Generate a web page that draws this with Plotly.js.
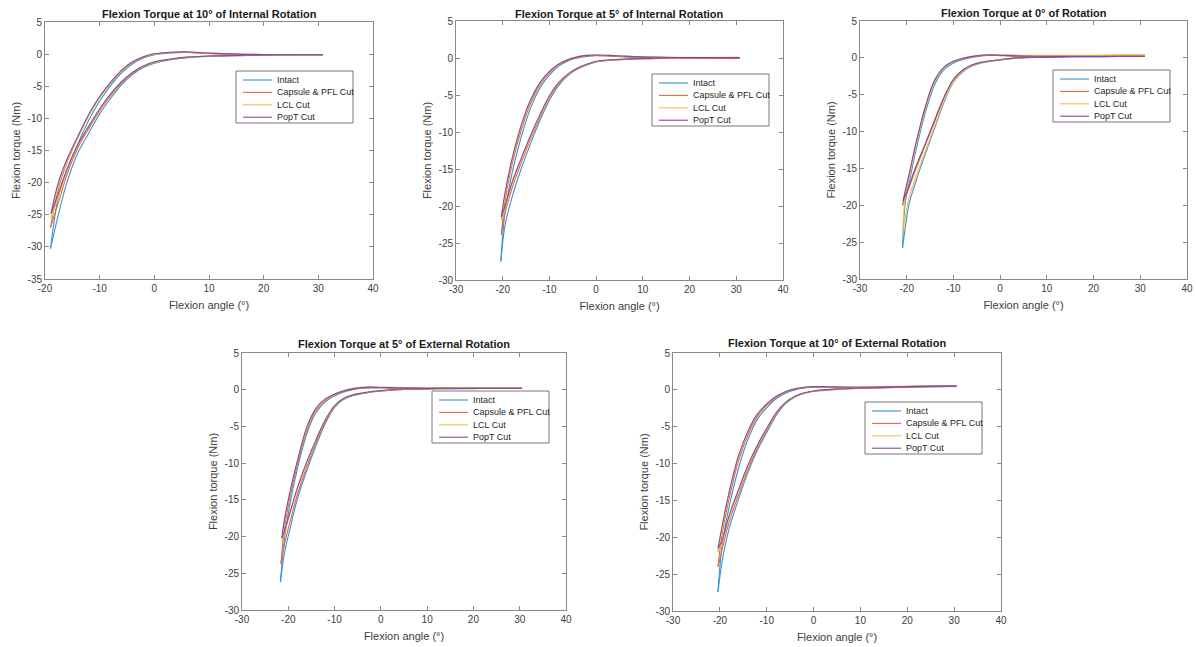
<!DOCTYPE html>
<html>
<head>
<meta charset="utf-8">
<script src="https://cdn.plot.ly/plotly-3.0.1.min.js"></script>
<style>html,body{margin:0;padding:0;background:#fff;}#chart{width:1196px;height:647px;}</style>
</head>
<body>
<div id="chart"></div>
<script>
// ---------------- DATA ----------------
const seriesNames = ['Intact', 'Capsule & PFL Cut', 'LCL Cut', 'PopT Cut'];
const panelTitles = [
  'Flexion Torque at 10° of Internal Rotation',
  'Flexion Torque at 5° of Internal Rotation',
  'Flexion Torque at 0° of Rotation',
  'Flexion Torque at 5° of External Rotation',
  'Flexion Torque at 10° of External Rotation'
];
const xAxisTitle = 'Flexion angle (°)';
const yAxisTitle = 'Flexion torque (Nm)';

const xTicksA = [-20, -10, 0, 10, 20, 30, 40];
const yTicksA = [-35, -30, -25, -20, -15, -10, -5, 0, 5];
const xTicksB = [-30, -20, -10, 0, 10, 20, 30, 40];
const yTicksB = [-30, -25, -20, -15, -10, -5, 0, 5];

// Panel 1: 10° internal rotation  (grid = flexion angle, up = loading branch, lo = unloading branch, tip = extreme point)
const p1Grid = [-17.5, -16, -14, -12, -10, -8, -6, -4, -2, 0, 3, 6, 10, 15, 20, 25, 30.8];
const p1IntactUp = [-22.0, -18.0, -14.0, -10.3, -7.3, -4.9, -2.9, -1.5, -0.6, -0.1, 0.2, 0.25, 0.1, -0.05, -0.1, -0.1, -0.1];
const p1IntactLo = [-24.8, -20.0, -15.4, -12.3, -9.3, -6.9, -4.8, -3.2, -2.1, -1.4, -0.85, -0.55, -0.35, -0.25, -0.2, -0.15, -0.1];
const p1IntactTip = [-19.0, -30.3];
const p1CapsuleUp = [-20.8, -16.9, -13.0, -9.5, -6.7, -4.5, -2.6, -1.3, -0.5, 0.0, 0.25, 0.3, 0.1, 0.0, -0.1, -0.15, -0.15];
const p1CapsuleLo = [-23.0, -18.8, -14.6, -11.6, -8.8, -6.5, -4.5, -3.0, -1.95, -1.3, -0.8, -0.5, -0.3, -0.25, -0.2, -0.15, -0.15];
const p1CapsuleTip = [-19.0, -27.0];
const p1LclUp = [-20.2, -16.7, -13.0, -9.6, -6.8, -4.5, -2.6, -1.25, -0.45, 0.0, 0.3, 0.3, 0.15, 0.0, -0.05, -0.1, -0.15];
const p1LclLo = [-22.0, -18.2, -14.2, -11.3, -8.6, -6.3, -4.4, -2.9, -1.9, -1.25, -0.75, -0.45, -0.3, -0.2, -0.2, -0.15, -0.15];
const p1LclTip = [-18.9, -25.6];
const p1PoptUp = [-19.8, -16.4, -12.8, -9.4, -6.6, -4.4, -2.5, -1.2, -0.4, 0.05, 0.3, 0.35, 0.15, 0.0, -0.05, -0.1, -0.1];
const p1PoptLo = [-21.6, -18.0, -14.1, -11.2, -8.5, -6.2, -4.3, -2.85, -1.85, -1.2, -0.75, -0.45, -0.3, -0.2, -0.15, -0.1, -0.1];
const p1PoptTip = [-18.9, -24.8];

// Panel 2: 5° internal rotation
const p2Grid = [-19.5, -18, -16, -14, -12, -10, -8, -6, -4, -2, 0, 3, 6, 10, 15, 20, 25, 30.7];
const p2IntactUp = [-20.8, -15.6, -10.6, -6.7, -4.0, -2.3, -1.1, -0.4, 0.0, 0.2, 0.3, 0.25, 0.15, 0.1, 0.05, 0.0, 0.0, 0.0];
const p2IntactLo = [-22.6, -18.8, -14.9, -11.5, -8.4, -5.7, -3.7, -2.35, -1.5, -0.95, -0.55, -0.3, -0.2, -0.1, -0.05, 0.0, 0.0, 0.0];
const p2IntactTip = [-20.4, -27.5];
const p2CapsuleUp = [-19.3, -14.4, -9.7, -6.1, -3.6, -2.0, -0.9, -0.3, 0.05, 0.3, 0.35, 0.3, 0.2, 0.1, 0.05, 0.05, 0.0, 0.0];
const p2CapsuleLo = [-21.0, -17.6, -14.1, -10.9, -8.0, -5.4, -3.5, -2.25, -1.45, -0.9, -0.5, -0.3, -0.2, -0.1, -0.05, 0.0, 0.0, 0.0];
const p2CapsuleTip = [-20.3, -23.9];
const p2LclUp = [-18.5, -13.8, -9.2, -5.75, -3.4, -1.85, -0.8, -0.2, 0.15, 0.35, 0.4, 0.35, 0.25, 0.15, 0.1, 0.1, 0.1, 0.1];
const p2LclLo = [-20.3, -17.0, -13.7, -10.6, -7.8, -5.25, -3.4, -2.2, -1.4, -0.88, -0.48, -0.25, -0.15, -0.05, 0.0, 0.05, 0.05, 0.1];
const p2LclTip = [-20.3, -21.9];
const p2PoptUp = [-18.2, -13.6, -9.0, -5.6, -3.3, -1.8, -0.8, -0.2, 0.15, 0.35, 0.4, 0.35, 0.25, 0.15, 0.1, 0.05, 0.05, 0.05];
const p2PoptLo = [-20.0, -16.8, -13.5, -10.4, -7.6, -5.1, -3.3, -2.15, -1.35, -0.85, -0.45, -0.25, -0.15, -0.05, 0.0, 0.05, 0.05, 0.05];
const p2PoptTip = [-20.3, -21.5];

// Panel 3: 0° rotation
const p3Grid = [-20.3, -19.5, -18, -16, -14, -12, -10, -8, -6, -4, -2, 0, 2, 5, 10, 15, 20, 25, 31];
const p3IntactUp = [-19.6, -17.0, -12.5, -7.4, -3.6, -1.6, -0.7, -0.25, 0.05, 0.25, 0.35, 0.3, 0.25, 0.2, 0.2, 0.2, 0.2, 0.2, 0.2];
const p3IntactLo = [-23.0, -19.8, -16.7, -13.0, -9.5, -6.0, -3.3, -1.9, -1.1, -0.7, -0.45, -0.3, -0.15, 0.0, 0.1, 0.15, 0.15, 0.2, 0.2];
const p3IntactTip = [-20.9, -25.8];
const p3CapsuleUp = [-18.2, -16.0, -11.7, -6.7, -3.05, -1.3, -0.5, -0.1, 0.15, 0.3, 0.35, 0.35, 0.3, 0.25, 0.2, 0.2, 0.2, 0.25, 0.25];
const p3CapsuleLo = [-19.0, -17.6, -15.0, -11.8, -8.6, -5.4, -3.0, -1.7, -1.0, -0.6, -0.4, -0.25, -0.1, 0.05, 0.1, 0.15, 0.2, 0.2, 0.25];
const p3CapsuleTip = [-20.9, -20.0];
const p3LclUp = [-18.7, -16.3, -11.9, -6.9, -3.2, -1.35, -0.5, -0.05, 0.2, 0.4, 0.45, 0.4, 0.4, 0.35, 0.35, 0.35, 0.35, 0.4, 0.4];
const p3LclLo = [-21.6, -19.0, -16.1, -12.6, -9.2, -5.8, -3.2, -1.8, -1.05, -0.65, -0.4, -0.25, -0.1, 0.05, 0.15, 0.25, 0.3, 0.35, 0.4];
const p3LclTip = [-20.9, -23.8];
const p3PoptUp = [-18.0, -15.8, -11.5, -6.6, -3.0, -1.25, -0.45, -0.05, 0.2, 0.35, 0.4, 0.35, 0.3, 0.25, 0.2, 0.2, 0.2, 0.2, 0.2];
const p3PoptLo = [-18.7, -17.3, -14.7, -11.6, -8.4, -5.3, -2.9, -1.65, -0.95, -0.6, -0.4, -0.25, -0.1, 0.05, 0.1, 0.15, 0.15, 0.2, 0.2];
const p3PoptTip = [-20.8, -19.4];

// Panel 4: 5° external rotation
const p4Grid = [-20.8, -19.5, -18, -16, -14, -12, -10, -8, -6, -4, -2, 0, 2, 5, 10, 15, 20, 25, 30.5];
const p4IntactUp = [-20.2, -15.1, -10.7, -6.0, -3.1, -1.65, -0.85, -0.3, 0.0, 0.2, 0.25, 0.25, 0.2, 0.2, 0.2, 0.2, 0.2, 0.2, 0.2];
const p4IntactLo = [-22.2, -18.6, -14.8, -11.0, -7.6, -4.6, -2.4, -1.3, -0.8, -0.5, -0.3, -0.2, -0.05, 0.05, 0.1, 0.15, 0.15, 0.2, 0.2];
const p4IntactTip = [-21.7, -26.2];
const p4CapsuleUp = [-18.8, -14.2, -10.1, -5.6, -2.8, -1.45, -0.7, -0.2, 0.1, 0.25, 0.3, 0.3, 0.25, 0.25, 0.2, 0.2, 0.2, 0.2, 0.2];
const p4CapsuleLo = [-21.0, -17.7, -14.2, -10.5, -7.2, -4.4, -2.3, -1.25, -0.75, -0.48, -0.3, -0.15, -0.05, 0.05, 0.1, 0.15, 0.2, 0.2, 0.2];
const p4CapsuleTip = [-21.6, -23.7];
const p4LclUp = [-17.8, -13.6, -9.7, -5.25, -2.6, -1.3, -0.6, -0.1, 0.2, 0.35, 0.4, 0.35, 0.35, 0.3, 0.3, 0.3, 0.3, 0.3, 0.3];
const p4LclLo = [-19.4, -16.6, -13.5, -10.0, -6.9, -4.2, -2.2, -1.2, -0.7, -0.45, -0.25, -0.1, 0.0, 0.1, 0.2, 0.25, 0.3, 0.3, 0.3];
const p4LclTip = [-21.4, -20.6];
const p4PoptUp = [-17.6, -13.5, -9.6, -5.1, -2.5, -1.25, -0.6, -0.15, 0.15, 0.3, 0.35, 0.3, 0.3, 0.25, 0.2, 0.2, 0.2, 0.2, 0.2];
const p4PoptLo = [-19.2, -16.4, -13.3, -9.8, -6.8, -4.1, -2.15, -1.15, -0.7, -0.45, -0.25, -0.1, 0.0, 0.1, 0.15, 0.2, 0.2, 0.2, 0.2];
const p4PoptTip = [-21.4, -20.2];

// Panel 5: 10° external rotation
const p5Grid = [-19.5, -18, -16, -14, -12, -10, -8, -6, -4, -2, 0, 2, 5, 10, 15, 20, 25, 30.5];
const p5IntactUp = [-21.0, -15.8, -10.6, -6.7, -4.0, -2.4, -1.2, -0.45, 0.0, 0.25, 0.35, 0.35, 0.3, 0.3, 0.35, 0.4, 0.45, 0.45];
const p5IntactLo = [-23.2, -18.8, -14.8, -11.2, -8.2, -5.8, -3.5, -1.9, -1.0, -0.5, -0.2, -0.1, 0.05, 0.2, 0.3, 0.35, 0.4, 0.45];
const p5IntactTip = [-20.4, -27.4];
const p5CapsuleUp = [-19.5, -14.7, -9.6, -6.1, -3.6, -2.1, -1.0, -0.3, 0.1, 0.3, 0.4, 0.4, 0.35, 0.35, 0.4, 0.45, 0.5, 0.5];
const p5CapsuleLo = [-21.6, -17.9, -14.2, -10.8, -7.9, -5.5, -3.3, -1.8, -0.95, -0.45, -0.2, -0.05, 0.1, 0.25, 0.3, 0.4, 0.45, 0.5];
const p5CapsuleTip = [-20.4, -24.0];
const p5LclUp = [-18.7, -14.0, -9.1, -5.7, -3.4, -1.95, -0.9, -0.25, 0.15, 0.35, 0.45, 0.45, 0.4, 0.4, 0.45, 0.5, 0.55, 0.55];
const p5LclLo = [-20.6, -17.2, -13.7, -10.4, -7.6, -5.3, -3.2, -1.75, -0.9, -0.45, -0.15, 0.0, 0.1, 0.25, 0.35, 0.4, 0.45, 0.5];
const p5LclTip = [-20.4, -22.0];
const p5PoptUp = [-18.4, -13.8, -8.9, -5.6, -3.3, -1.9, -0.9, -0.25, 0.15, 0.35, 0.45, 0.45, 0.4, 0.35, 0.4, 0.45, 0.5, 0.5];
const p5PoptLo = [-20.4, -17.0, -13.5, -10.2, -7.5, -5.2, -3.1, -1.7, -0.85, -0.4, -0.15, 0.0, 0.1, 0.25, 0.3, 0.4, 0.45, 0.5];
const p5PoptTip = [-20.4, -21.5];

// ---------------- STYLE / LAYOUT ----------------
const seriesColors = ['#3a93d0', '#de6b40', '#efc24e', '#8a4a98'];
const W = 1196, H = 647;
const FONT = 'Liberation Sans, Arial, Helvetica, sans-serif';

const panels = [
  { grid: p1Grid, up: [p1IntactUp, p1CapsuleUp, p1LclUp, p1PoptUp], lo: [p1IntactLo, p1CapsuleLo, p1LclLo, p1PoptLo], tip: [p1IntactTip, p1CapsuleTip, p1LclTip, p1PoptTip],
    xr: [-20, 40], yr: [-35, 5], xt: xTicksA, yt: yTicksA, box: [45, 373, 22, 279], leg: [236, 71], titleY: 14 },
  { grid: p2Grid, up: [p2IntactUp, p2CapsuleUp, p2LclUp, p2PoptUp], lo: [p2IntactLo, p2CapsuleLo, p2LclLo, p2PoptLo], tip: [p2IntactTip, p2CapsuleTip, p2LclTip, p2PoptTip],
    xr: [-30, 40], yr: [-30, 5], xt: xTicksB, yt: yTicksB, box: [456, 783, 21, 280], leg: [652, 74], titleY: 14 },
  { grid: p3Grid, up: [p3IntactUp, p3CapsuleUp, p3LclUp, p3PoptUp], lo: [p3IntactLo, p3CapsuleLo, p3LclLo, p3PoptLo], tip: [p3IntactTip, p3CapsuleTip, p3LclTip, p3PoptTip],
    xr: [-30, 40], yr: [-30, 5], xt: xTicksB, yt: yTicksB, box: [860, 1187, 21, 279], leg: [1053, 70], titleY: 13 },
  { grid: p4Grid, up: [p4IntactUp, p4CapsuleUp, p4LclUp, p4PoptUp], lo: [p4IntactLo, p4CapsuleLo, p4LclLo, p4PoptLo], tip: [p4IntactTip, p4CapsuleTip, p4LclTip, p4PoptTip],
    xr: [-30, 40], yr: [-30, 5], xt: xTicksB, yt: yTicksB, box: [242, 566, 353, 610], leg: [432, 391], titleY: 344 },
  { grid: p5Grid, up: [p5IntactUp, p5CapsuleUp, p5LclUp, p5PoptUp], lo: [p5IntactLo, p5CapsuleLo, p5LclLo, p5PoptLo], tip: [p5IntactTip, p5CapsuleTip, p5LclTip, p5PoptTip],
    xr: [-30, 40], yr: [-30, 5], xt: xTicksB, yt: yTicksB, box: [673, 1001, 353, 611], leg: [865, 402], titleY: 343 }
];

const px = v => v / W;
const py = v => 1 - v / H;

const traces = [];
const layout = {
  width: W, height: H,
  margin: { l: 0, r: 0, t: 0, b: 0 },
  paper_bgcolor: '#ffffff', plot_bgcolor: '#ffffff',
  showlegend: false,
  font: { family: FONT, color: '#404040' },
  shapes: [], annotations: []
};

panels.forEach((p, i) => {
  const n = i + 1;
  const xa = 'x' + (n === 1 ? '' : n), ya = 'y' + (n === 1 ? '' : n);
  // loading and unloading branches drawn separately, both starting at the extreme (tip) point
  for (let s = 0; s < 4; s++) {
    const common = { type: 'scatter', mode: 'lines', xaxis: xa, yaxis: ya, name: seriesNames[s],
      line: { color: seriesColors[s], width: 1.1, shape: 'spline', smoothing: 1.0 }, hoverinfo: 'x+y+name' };
    traces.push(Object.assign({}, common, { x: [p.tip[s][0]].concat(p.grid), y: [p.tip[s][1]].concat(p.up[s]) }));
    traces.push(Object.assign({}, common, { x: [p.tip[s][0]].concat(p.grid), y: [p.tip[s][1]].concat(p.lo[s]) }));
  }
  const axCommon = {
    showline: true, linecolor: '#8a8a8a', linewidth: 1, mirror: 'ticks',
    ticks: 'inside', ticklen: 4, tickwidth: 1, tickcolor: '#8a8a8a',
    showgrid: false, zeroline: false, fixedrange: true,
    tickfont: { family: FONT, size: 10, color: '#404040' }
  };
  layout['xaxis' + (n === 1 ? '' : n)] = Object.assign({}, axCommon, {
    domain: [px(p.box[0]), px(p.box[1])], range: p.xr, anchor: ya,
    tickmode: 'array', tickvals: p.xt, ticktext: p.xt.map(String),
    title: { text: xAxisTitle, font: { family: FONT, size: 11, color: '#404040' }, standoff: 8 }
  });
  layout['yaxis' + (n === 1 ? '' : n)] = Object.assign({}, axCommon, {
    domain: [py(p.box[3]), py(p.box[2])], range: p.yr, anchor: xa,
    tickmode: 'array', tickvals: p.yt, ticktext: p.yt.map(String),
    title: { text: yAxisTitle, font: { family: FONT, size: 11, color: '#404040' }, standoff: 4 }
  });
  // panel title
  layout.annotations.push({
    xref: 'paper', yref: 'paper', x: px((p.box[0] + p.box[1]) / 2), y: py(p.titleY),
    xanchor: 'center', yanchor: 'middle', showarrow: false,
    text: '<b>' + panelTitles[i] + '</b>', font: { family: FONT, size: 11, color: '#1a1a1a' }
  });
  // legend box
  const L = p.leg[0], T = p.leg[1], LW = 117, LH = 52;
  layout.shapes.push({ type: 'rect', xref: 'paper', yref: 'paper', x0: px(L), x1: px(L + LW), y0: py(T + LH), y1: py(T),
    line: { color: '#555555', width: 0.8 }, fillcolor: '#ffffff', layer: 'above' });
  for (let s = 0; s < 4; s++) {
    const yy = T + 9 + s * 12.4;
    layout.shapes.push({ type: 'line', xref: 'paper', yref: 'paper', x0: px(L + 7), x1: px(L + 36), y0: py(yy), y1: py(yy),
      line: { color: seriesColors[s], width: 1.1 }, layer: 'above' });
    layout.annotations.push({ xref: 'paper', yref: 'paper', x: px(L + 39), y: py(yy), xanchor: 'left', yanchor: 'middle',
      showarrow: false, text: seriesNames[s], font: { family: FONT, size: 9, color: '#262626' } });
  }
});

Plotly.newPlot('chart', traces, layout, { displayModeBar: false, staticPlot: true });
</script>
</body>
</html>
